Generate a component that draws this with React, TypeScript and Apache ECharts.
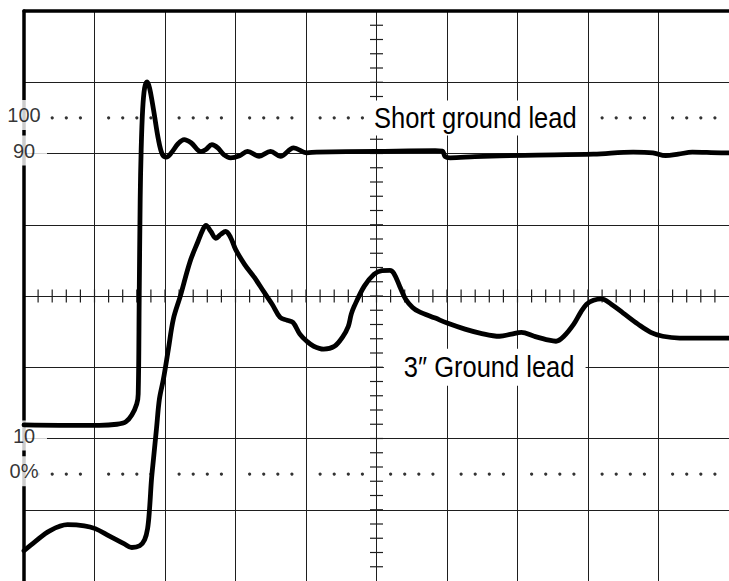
import React, { useEffect, useRef } from "react";
import * as echarts from "echarts";

// Graticule: x in divisions (0..10), y in percent of the step (0% .. 100%)
const X_MIN = 0;
const X_MAX = 10;
const DIV_MIN = 0;
const DIV_MAX = 8;
const PCT_MIN = -30;
const PCT_MAX = 130;
const MINOR_PER_DIV = 5;

// Dotted reference levels and their labels
const DOTTED_LEVELS = [0, 100];
const LEVEL_VALUES = [100, 90, 10, 0];
const LEVEL_TEXTS = ["100", "90", "10", "0%"];

// Trace annotation texts and anchors (x in divisions, y in percent)
const TRACE_NAMES = ["Short ground lead", "3\u2033 Ground lead"];
const TRACE_NAME_X = [4.88, 5.105];
const TRACE_NAME_Y = [100, 30];

// Short ground lead trace: [division, percent]
const SHORT_LEAD: [number, number][] = [
  [0, 13.8], [0.505, 13.7], [1.066, 13.7], [1.318, 14.0], [1.445, 14.7],
  [1.529, 16.6], [1.599, 19.7], [1.62, 22.5], [1.634, 49.1], [1.648, 77.1],
  [1.662, 91.1], [1.683, 102.3], [1.711, 108.4], [1.746, 110.1], [1.781, 108.4],
  [1.837, 102.3], [1.907, 93.9], [1.963, 89.7], [2.02, 89.0], [2.09, 90.2],
  [2.188, 92.8], [2.272, 93.9], [2.37, 93.0], [2.51, 90.5], [2.58, 91.1],
  [2.665, 92.5], [2.749, 91.6], [2.833, 89.7], [2.931, 88.8], [3.058, 89.4],
  [3.17, 90.6], [3.334, 89.2], [3.497, 90.6], [3.637, 89.2], [3.825, 91.6],
  [4.011, 90.2], [4.151, 90.4], [4.993, 90.6], [5.834, 90.8], [5.933, 90.7],
  [5.975, 89.1], [6.045, 88.8], [6.396, 89.1], [7.097, 89.5], [8.078, 89.8],
  [8.64, 90.4], [8.92, 90.2], [9.10, 89.4], [9.28, 89.8], [9.48, 90.4],
  [9.89, 90.2], [10, 90.2],
];

// 3" ground lead trace: [division, percent]
const LONG_LEAD: [number, number][] = [
  [0, -21.5], [0.154, -19.0], [0.365, -15.9], [0.617, -14.2], [0.855, -14.5],
  [1.01, -15.3], [1.206, -17.3], [1.417, -19.5], [1.529, -20.6], [1.641, -20.1],
  [1.711, -18.4], [1.753, -15.3], [1.781, -9.7], [1.809, -1.3], [1.837, 4.3],
  [1.879, 12.7], [1.921, 21.1], [1.978, 26.7], [2.048, 35.1], [2.118, 43.5],
  [2.216, 49.9], [2.356, 59.7], [2.468, 65.3], [2.539, 68.7], [2.581, 69.8],
  [2.651, 68.1], [2.721, 66.2], [2.791, 67.3], [2.861, 68.1], [2.931, 66.4],
  [3.001, 63.1], [3.128, 58.9], [3.268, 55.2], [3.408, 51.0], [3.52, 47.7],
  [3.633, 44.0], [3.731, 43.2], [3.815, 42.6], [3.913, 39.3], [4.011, 37.3],
  [4.109, 35.9], [4.25, 35.1], [4.404, 35.9], [4.516, 38.4], [4.60, 41.5],
  [4.642, 44.9], [4.684, 47.1], [4.825, 52.7], [4.965, 56.1], [5.077, 57.1],
  [5.189, 57.2], [5.245, 56.4], [5.33, 52.7], [5.414, 49.1], [5.512, 46.8],
  [5.596, 45.7], [5.834, 43.8], [6.003, 42.4], [6.255, 40.7], [6.466, 39.6],
  [6.746, 38.7], [6.914, 39.3], [7.055, 39.8], [7.237, 38.7], [7.447, 37.6],
  [7.546, 37.3], [7.658, 38.7], [7.798, 42.1], [7.896, 45.4], [7.98, 47.7],
  [8.078, 48.8], [8.19, 49.2], [8.33, 47.7], [8.499, 45.2], [8.709, 42.1],
  [8.89, 39.8], [9.06, 38.7], [9.30, 38.2], [9.89, 38.2], [10, 38.2],
];

const INK = "#000";
const GRID_INK = "#1e1e1e";
const SANS = "'Liberation Sans', Arial, Helvetica, sans-serif";

function buildOption() {
  const pctPerDiv = (PCT_MAX - PCT_MIN) / (DIV_MAX - DIV_MIN);
  const centerX = (X_MIN + X_MAX) / 2;
  const centerY = (PCT_MIN + PCT_MAX) / 2;

  // graticule minor marks on the centre cross
  const ticks: [number, number, number][] = [];
  for (let k = 1; k < (X_MAX - X_MIN) * MINOR_PER_DIV; k++) {
    ticks.push([X_MIN + k / MINOR_PER_DIV, centerY, 0]);
  }
  for (let k = 1; k < (DIV_MAX - DIV_MIN) * MINOR_PER_DIV; k++) {
    ticks.push([centerX, PCT_MIN + (k * pctPerDiv) / MINOR_PER_DIV, 1]);
  }

  // dotted reference rows
  const dots: [number, number][] = [];
  DOTTED_LEVELS.forEach((lv) => {
    for (let k = 1; k < (X_MAX - X_MIN) * MINOR_PER_DIV; k++) {
      if (k % MINOR_PER_DIV !== 0) dots.push([X_MIN + k / MINOR_PER_DIV, lv]);
    }
  });

  const levelData = LEVEL_VALUES.map((v, i) => ({ value: [X_MIN, v], name: LEVEL_TEXTS[i] }));

  return {
    animation: false,
    backgroundColor: "#fff",
    grid: { left: 24, top: 11, width: 713, height: 571.4, containLabel: false },
    xAxis: [
      {
        type: "value",
        min: X_MIN,
        max: X_MAX,
        interval: 1,
        position: "top",
        axisLine: { show: true, onZero: false, lineStyle: { color: INK, width: 3.5 } },
        axisTick: { show: false },
        axisLabel: { show: false },
        splitLine: { show: true, lineStyle: { color: GRID_INK, width: 1 } },
      },
    ],
    yAxis: [
      {
        type: "value",
        min: PCT_MIN,
        max: PCT_MAX,
        position: "right",
        show: false,
      },
      {
        type: "value",
        min: DIV_MIN,
        max: DIV_MAX,
        interval: 1,
        position: "left",
        axisLine: { show: true, onZero: false, lineStyle: { color: INK, width: 3.5 } },
        axisTick: { show: false },
        axisLabel: { show: false },
        splitLine: { show: true, lineStyle: { color: GRID_INK, width: 1 } },
      },
    ],
    series: [
      {
        type: "custom",
        name: "ticks",
        xAxisIndex: 0,
        yAxisIndex: 0,
        silent: true,
        z: 1,
        data: ticks,
        renderItem: (_p: any, api: any) => {
          const pt = api.coord([api.value(0), api.value(1)]);
          const vertical = api.value(2) === 0;
          const h = 6.5;
          return {
            type: "line",
            shape: vertical
              ? { x1: pt[0], y1: pt[1] - h, x2: pt[0], y2: pt[1] + h }
              : { x1: pt[0] - h, y1: pt[1], x2: pt[0] + h, y2: pt[1] },
            style: { stroke: GRID_INK, lineWidth: 1.2 },
          };
        },
      },
      {
        type: "scatter",
        name: "dots",
        xAxisIndex: 0,
        yAxisIndex: 0,
        silent: true,
        z: 1,
        symbol: "circle",
        symbolSize: 3.2,
        itemStyle: { color: INK },
        data: dots,
      },
      {
        type: "scatter",
        name: "levels",
        xAxisIndex: 0,
        yAxisIndex: 0,
        silent: true,
        clip: false,
        z: 3,
        symbolSize: 1,
        itemStyle: { color: "rgba(0,0,0,0)" },
        label: {
          show: true,
          position: "inside",
          formatter: "{b}",
          fontSize: 20,
          lineHeight: 20,
          fontFamily: SANS,
          color: INK,
          backgroundColor: "#fff",
          padding: [5, 2],
          width: 42,
          align: "center",
          offset: [0, -3],
        },
        data: levelData,
      },
      {
        type: "line",
        name: "Short ground lead",
        xAxisIndex: 0,
        yAxisIndex: 0,
        z: 5,
        showSymbol: false,
        smooth: 0.35,
        silent: true,
        lineStyle: { color: INK, width: 4.8, cap: "round", join: "round" },
        data: SHORT_LEAD,
      },
      {
        type: "line",
        name: "3\u2033 Ground lead",
        xAxisIndex: 0,
        yAxisIndex: 0,
        z: 5,
        showSymbol: false,
        smooth: 0.35,
        silent: true,
        lineStyle: { color: INK, width: 4.8, cap: "round", join: "round" },
        data: LONG_LEAD,
      },
    ],
  };
}

export default function App() {
  const ref = useRef<HTMLDivElement>(null);
  useEffect(() => {
    document.body.style.margin = "0";
    if (!ref.current) return;
    const chart = echarts.init(ref.current, null, { renderer: "svg" });
    chart.setOption(buildOption() as any);

    // trace names: condensed lettering, anchored through the chart's own scales
    const squeeze = 0.85;
    const paddings = [
      [2, 12, 3, 7],
      [4, 13, 3, 23.5],
    ];
    const graphic = TRACE_NAMES.map((text, i) => {
      const p = chart.convertToPixel({ xAxisIndex: 0, yAxisIndex: 0 }, [
        TRACE_NAME_X[i],
        TRACE_NAME_Y[i],
      ]) as number[];
      return {
        type: "text",
        x: p[0],
        y: p[1],
        scaleX: squeeze,
        z: 3,
        silent: true,
        style: {
          text,
          fontSize: 30,
          lineHeight: 30,
          fontFamily: SANS,
          fill: INK,
          align: "left",
          verticalAlign: "middle",
          backgroundColor: "#fff",
          padding: paddings[i],
        },
      };
    });
    chart.setOption({ graphic });
    return () => chart.dispose();
  }, []);
  return (
    <div
      ref={ref}
      style={{ position: "absolute", left: 0, top: 0, width: 729, height: 581, overflow: "hidden" }}
    />
  );
}
